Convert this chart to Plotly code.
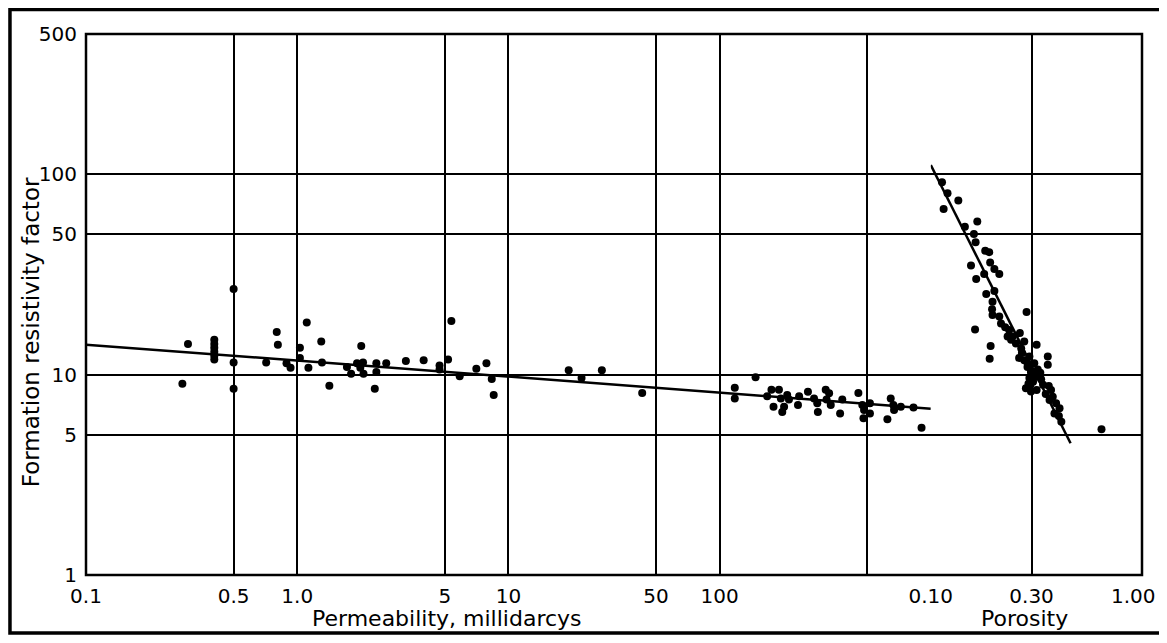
import plotly.graph_objects as go
from plotly.subplots import make_subplots

# ---------------- data ----------------
perm_k = [0.304, 0.286, 0.405, 0.405, 0.405, 0.405, 0.405, 0.405, 0.50, 0.50, 0.50,
          0.713, 0.80, 0.81, 0.89, 0.93, 1.03, 1.03, 1.11, 1.13, 1.30, 1.31, 1.42,
          1.72, 1.80, 1.92, 1.99, 2.05, 2.06, 2.01, 2.37, 2.37, 2.33, 2.64, 3.27,
          3.97, 4.72, 4.72, 5.18, 5.37, 5.88, 7.05, 7.87, 8.34, 8.52, 19.3, 22.2,
          27.7, 43.0, 118, 118, 148, 176, 191, 168, 180, 198, 202, 195, 209, 213,
          238, 235, 262, 280, 290, 292, 318, 330, 321, 336, 372, 381, 454, 474,
          483, 480, 515, 515, 623, 646, 665, 670, 721, 828, 904]
perm_F = [14.2, 9.0, 14.9, 14.2, 13.6, 13.0, 12.4, 11.9, 26.7, 11.5, 8.5,
          11.5, 16.3, 14.1, 11.4, 10.8, 13.6, 12.1, 18.2, 10.8, 14.6, 11.5, 8.8,
          10.9, 10.1, 11.4, 10.8, 11.5, 10.1, 13.9, 11.4, 10.3, 8.5, 11.4, 11.7,
          11.8, 11.1, 10.6, 11.9, 18.5, 9.8, 10.7, 11.4, 9.5, 7.9, 10.5, 9.6,
          10.5, 8.1, 8.6, 7.6, 9.7, 8.4, 8.4, 7.8, 6.9, 6.5, 6.9, 7.6, 7.9, 7.5,
          7.8, 7.05, 8.2, 7.6, 7.2, 6.5, 8.4, 8.07, 7.5, 7.05, 6.4, 7.5, 8.1, 7.05,
          6.66, 6.05, 7.2, 6.4, 5.98, 7.6, 7.05, 6.66, 6.9, 6.84, 5.43]

por_phi = [0.113, 0.120, 0.135, 0.115, 0.145, 0.166, 0.160, 0.163, 0.181, 0.189,
           0.191, 0.200, 0.211, 0.155, 0.164, 0.179, 0.183, 0.200, 0.196, 0.195,
           0.196, 0.211, 0.215, 0.284, 0.162, 0.192, 0.190, 0.235, 0.244, 0.231,
           0.264, 0.253, 0.277, 0.268, 0.317, 0.262, 0.277, 0.293, 0.309, 0.287,
           0.298, 0.321, 0.317, 0.333, 0.293, 0.282, 0.298, 0.317, 0.296, 0.358,
           0.358, 0.362, 0.371, 0.378, 0.365, 0.392, 0.407, 0.404, 0.415, 0.385,
           0.643, 0.225, 0.240, 0.270, 0.285, 0.300, 0.305, 0.290, 0.340, 0.350,
           0.330]
por_F = [91.1, 80.3, 73.8, 67.0, 54.7, 58.0, 50.3, 45.7, 41.5, 40.8,
         36.2, 33.6, 31.7, 35.0, 30.0, 31.7, 25.2, 26.1, 23.1, 21.2,
         19.8, 19.5, 18.0, 20.5, 16.8, 13.9, 12.0, 16.7, 15.5, 15.5,
         16.1, 14.3, 14.6, 13.5, 14.1, 12.1, 11.8, 12.3, 11.4, 10.9,
         10.3, 10.6, 9.77, 9.47, 9.6, 8.54, 8.22, 8.38, 8.87, 12.3,
         11.2, 8.77, 8.38, 7.76, 7.47, 7.2, 6.79, 6.22, 5.82, 6.4,
         5.33, 17.2, 14.9, 12.8, 11.6, 10.0, 9.2, 9.0, 8.9, 8.0,
         10.2]

fit_perm_k = [0.1, 1000]
fit_perm_F = [14.1, 6.76]
fit_por_phi = [0.10, 0.459]
fit_por_F = [111, 4.54]

perm_tickvals = [0.1, 0.5, 1, 5, 10, 50, 100, 500]
perm_ticktext = ["0.1", "0.5", "1.0", "5", "10", "50", "100", ""]
por_tickvals = [0.10, 0.30, 1.00]
por_ticktext = ["0.10", "0.30", ""]
por_end_label = "1.00"
F_tickvals = [1, 5, 10, 50, 100, 500]
F_ticktext = ["1", "5", "10", "50", "100", "500"]

# ---------------- figure ----------------
FONT = "DejaVu Sans"
fig = make_subplots(rows=1, cols=2, shared_yaxes=True,
                    column_widths=[4, 1], horizontal_spacing=0)

mk = dict(color="black", size=8)
fig.add_trace(go.Scatter(x=perm_k, y=perm_F, mode="markers", marker=mk,
                         showlegend=False), row=1, col=1)
fig.add_trace(go.Scatter(x=fit_perm_k, y=fit_perm_F, mode="lines",
                         line=dict(color="black", width=2.5),
                         showlegend=False), row=1, col=1)
fig.add_trace(go.Scatter(x=por_phi, y=por_F, mode="markers", marker=mk,
                         showlegend=False), row=1, col=2)
fig.add_trace(go.Scatter(x=fit_por_phi, y=fit_por_F, mode="lines",
                         line=dict(color="black", width=2.5),
                         showlegend=False), row=1, col=2)

tick_font = dict(family=FONT, size=20, color="black")
axis_common = dict(type="log", showgrid=True, gridcolor="black", gridwidth=1.5,
                   zeroline=False, showline=False, ticks="", automargin=False,
                   ticklabeloverflow="allow", tickfont=tick_font)

fig.update_xaxes(range=[-1, 3], tickvals=perm_tickvals, ticktext=perm_ticktext,
                 ticklabelstandoff=7, **axis_common, row=1, col=1)
fig.update_xaxes(range=[-1, 0], tickvals=por_tickvals, ticktext=por_ticktext,
                 ticklabelstandoff=7, **axis_common, row=1, col=2)
fig.update_yaxes(range=[0, 2.69897], tickvals=F_tickvals, ticktext=F_ticktext,
                 ticklabelstandoff=8, **axis_common)

# end label of the porosity axis, kept inside the page
fig.add_annotation(text=por_end_label, xref="paper", yref="paper",
                   x=1.0152, y=-0.0388, showarrow=False, font=tick_font,
                   xanchor="right", yanchor="middle")

# plot frame
fig.add_shape(type="rect", xref="paper", yref="paper", x0=0, y0=0, x1=1, y1=1,
              line=dict(color="black", width=2.5), layer="above")
# outer border (page frame)
fig.add_shape(type="rect", xref="paper", yref="paper",
              x0=-0.0720, y0=-0.1070, x1=1.05, y1=1.0453,
              line=dict(color="black", width=3.5))

title_font = dict(family=FONT, size=22, color="black")
fig.add_annotation(text="Permeability, millidarcys", xref="paper", yref="paper",
                   x=0.342, y=-0.0795, showarrow=False, font=title_font,
                   xanchor="center", yanchor="middle")
fig.add_annotation(text="Porosity", xref="paper", yref="paper",
                   x=0.889, y=-0.0795, showarrow=False, font=title_font,
                   xanchor="center", yanchor="middle")
fig.add_annotation(text="Formation resistivity factor", xref="paper", yref="paper",
                   x=-0.052, y=0.449, showarrow=False,
                   font=dict(family=FONT, size=23, color="black"),
                   textangle=-90, xanchor="center", yanchor="middle")

fig.update_layout(width=1151, height=627,
                  margin=dict(l=78, r=17, t=26, b=60, autoexpand=False),
                  paper_bgcolor="white", plot_bgcolor="white")

fig.write_html("out.html")
